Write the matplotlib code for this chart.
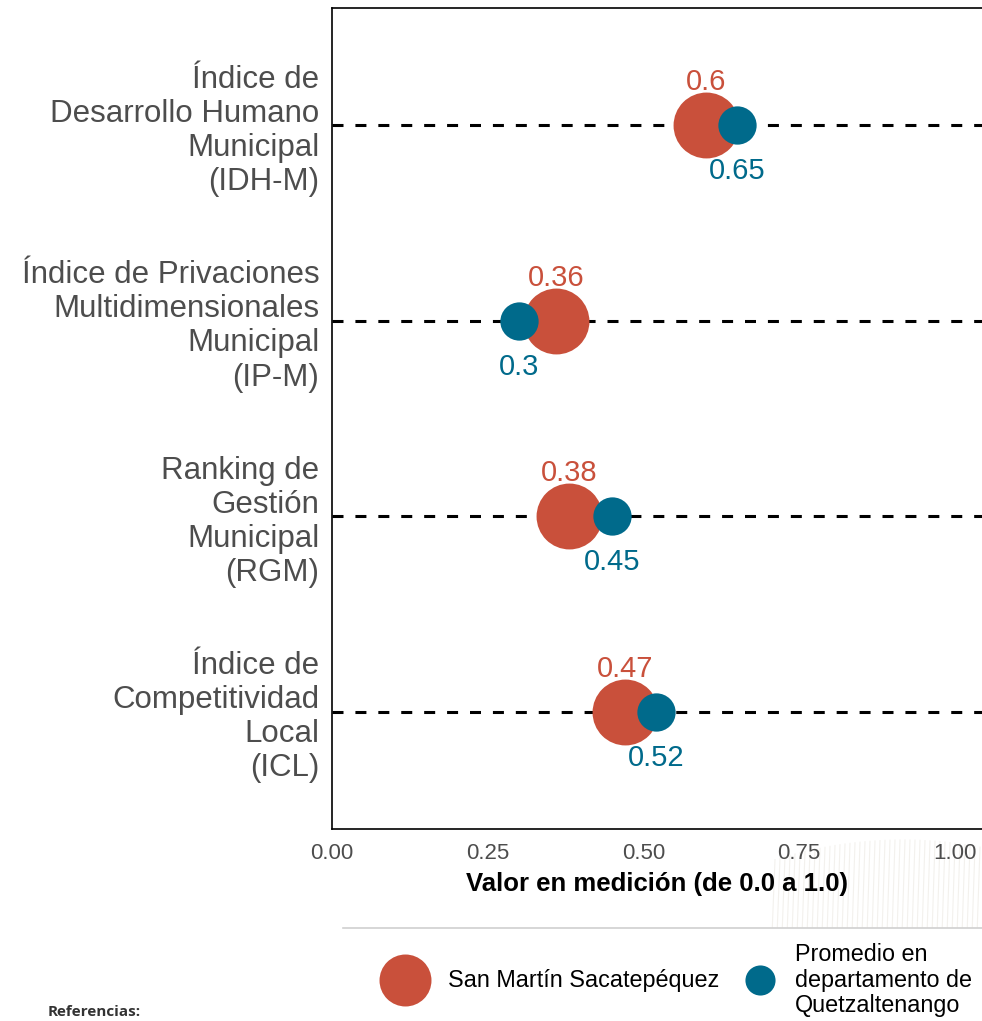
import numpy as np
import matplotlib
matplotlib.use("Agg")
import matplotlib.pyplot as plt
from matplotlib.lines import Line2D

plt.rcParams['font.family'] = ['Liberation Sans', 'DejaVu Sans']

# indicator labels, top to bottom
indicadores = [
    "Índice de\nDesarrollo Humano\nMunicipal\n(IDH-M)",
    "Índice de Privaciones\nMultidimensionales\nMunicipal\n(IP-M)",
    "Ranking de\nGestión\nMunicipal\n(RGM)",
    "Índice de\nCompetitividad\nLocal\n(ICL)",
]
municipio = [0.6, 0.36, 0.38, 0.47]
departamento = [0.65, 0.3, 0.45, 0.52]
x_ticks = [0.0, 0.25, 0.5, 0.75, 1.0]
x_tick_labels = ["0.00", "0.25", "0.50", "0.75", "1.00"]
serie_municipio = "San Martín Sacatepéquez"
serie_departamento = "Promedio en\ndepartamento de\nQuetzaltenango"

ROJO = "#C9503B"
AZUL = "#006A8B"
GRIS = "#4D4D4D"

W, H = 982, 1021
fig = plt.figure(figsize=(W / 100, H / 100), dpi=100)
fig.patch.set_facecolor("white")

# faint striped background motif in the lower right corner
for xp in np.arange(772, 982, 5):
    top = 840 + 0.0012 * (xp - 900) ** 2
    fig.add_artist(Line2D([xp / W, (xp + 3) / W], [(H - 935) / H, (H - top) / H],
                          color="#F3F1ED", lw=0.8, zorder=0))

ax = fig.add_axes([332 / W, (H - 829) / H, (W - 332) / W, 821 / H])
ax.patch.set_alpha(0)
y = np.arange(len(indicadores), 0, -1)

for yy in y:
    ax.axhline(yy, color="black", lw=2.2, ls=(0, (3.6, 3.9)), zorder=1)

ax.scatter(municipio, y, s=2250, color=ROJO, zorder=3, linewidths=0)
ax.scatter(departamento, y, s=760, color=AZUL, zorder=4, linewidths=0)

for xv, yy in zip(municipio, y):
    ax.text(xv, yy + 0.22, f"{xv:g}", color=ROJO, fontsize=21,
            ha="center", va="center")
for xv, yy in zip(departamento, y):
    ax.text(xv, yy - 0.235, f"{xv:g}", color=AZUL, fontsize=21,
            ha="center", va="center")

ax.set_xlim(0, 650 / 623)
ax.set_ylim(0.4, 4.6)
ax.set_yticks(y)
ax.set_yticklabels(indicadores, fontsize=22.5, color=GRIS)
for lbl in ax.get_yticklabels():
    lbl.set_linespacing(1.18)
ax.set_xticks(x_ticks)
ax.set_xticklabels(x_tick_labels, fontsize=16, color=GRIS)
ax.tick_params(axis="both", length=0)
ax.tick_params(axis="x", pad=10)
ax.tick_params(axis="y", pad=9)
ax.set_xlabel("Valor en medición (de 0.0 a 1.0)", fontsize=18.5,
              fontweight="bold", labelpad=6)
for side in ["top", "left", "bottom"]:
    ax.spines[side].set_linewidth(1.2)
    ax.spines[side].set_color("black")
ax.spines["right"].set_visible(False)

# legend panel along the bottom edge
lax = fig.add_axes([343 / W, 0, (W - 343) / W, (H - 928) / H])
lax.set_xlim(0, W - 343)
lax.set_ylim(0, H - 928)
lax.set_xticks([])
lax.set_yticks([])
for side in ["left", "right", "bottom"]:
    lax.spines[side].set_visible(False)
lax.spines["top"].set_color("#D0D0D0")
lax.spines["top"].set_linewidth(1.2)
lax.scatter([405 - 343], [H - 980], s=1400, color=ROJO, linewidths=0,
            clip_on=False)
lax.text(448 - 343, H - 980, serie_municipio, fontsize=16.8, color="black",
         ha="left", va="center")
lax.scatter([760 - 343], [H - 980], s=470, color=AZUL, linewidths=0,
            clip_on=False)
lax.text(795 - 343, H - 980, serie_departamento, fontsize=16.8, color="black",
         ha="left", va="center", linespacing=1.14)

fig.text(48 / W, 2 / H, "Referencias:", fontsize=11,
         fontweight="bold", family=["Open Sans", "DejaVu Sans"],
         ha="left", va="bottom", color="#333333")

fig.savefig("out.png", dpi=100, facecolor="white")
